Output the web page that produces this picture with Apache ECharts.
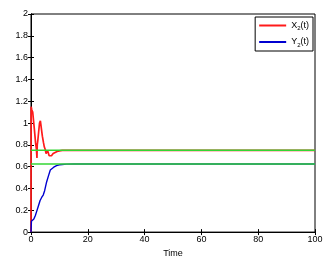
<!DOCTYPE html>
<html><head><meta charset="utf-8">
<script src="https://cdn.jsdelivr.net/npm/echarts@6/dist/echarts.min.js"></script>
<style>html,body{margin:0;padding:0;background:#fff}#c{width:333px;height:263px}</style>
</head><body><div id="c"></div>
<script>
var xTicks = [0, 20, 40, 60, 80, 100];
var yTicks = [0, 0.2, 0.4, 0.6, 0.8, 1, 1.2, 1.4, 1.6, 1.8, 2];
var redT = [0, 0.05, 0.3, 0.6, 0.9, 1.2, 1.4, 1.6, 1.9, 2.1, 2.2, 2.4, 2.7, 3.0, 3.3, 3.5, 3.7, 4.0, 4.4, 4.7, 5.0, 5.3, 5.5, 5.8, 6.1, 6.4, 6.7, 7.2, 7.8, 8.5, 9.2, 10, 11, 12, 15, 20, 40, 60, 80, 100];
var redV = [0, 1.15, 1.12, 1.1, 1.02, 0.94, 0.88, 0.82, 0.76, 0.68, 0.8, 0.84, 0.92, 1.0, 1.02, 0.98, 0.94, 0.88, 0.82, 0.78, 0.76, 0.72, 0.71, 0.75, 0.74, 0.7, 0.71, 0.7, 0.72, 0.72, 0.74, 0.745, 0.75, 0.75, 0.75, 0.75, 0.75, 0.75, 0.75, 0.75];
var blueT = [0, 0.15, 0.4, 1.0, 1.5, 2.0, 2.6, 3.2, 3.8, 4.3, 4.8, 5.5, 6.2, 6.8, 7.3, 8.0, 9.0, 10, 11, 12.5, 15, 20, 40, 60, 80, 100];
var blueV = [0, 0.1, 0.1, 0.12, 0.15, 0.19, 0.24, 0.29, 0.32, 0.34, 0.38, 0.46, 0.52, 0.57, 0.585, 0.595, 0.61, 0.617, 0.62, 0.623, 0.625, 0.625, 0.625, 0.625, 0.625, 0.625];
var greenLevels = [0.75, 0.625];
var names = ['X{s|2}(t)', 'Y{s|2}(t)'];

function pairs(t, v){ return t.map(function(x,i){return [x, v[i]];}); }

var chart = echarts.init(document.getElementById('c'));
var fam = 'Liberation Sans, Arial, sans-serif';
var axisLabel = {fontSize: 9, color: '#000', fontFamily: fam};
var series = [
  {name: 'X2', type: 'line', data: pairs(redT, redV), showSymbol: false, lineStyle: {color: '#ff1a1a', width: 1.7}, itemStyle: {color: '#ff1a1a'}, xAxisIndex: 0, yAxisIndex: 0, z: 2},
  {name: 'Y2', type: 'line', data: pairs(blueT, blueV), showSymbol: false, lineStyle: {color: '#0000d0', width: 1.4}, itemStyle: {color: '#0000d0'}, xAxisIndex: 0, yAxisIndex: 0, z: 2}
];
greenLevels.forEach(function(g, i){
  series.push({name: 'g' + i, type: 'line', data: [[0, g], [100, g]], showSymbol: false, lineStyle: {color: '#33d633', width: 1.4}, xAxisIndex: 0, yAxisIndex: 0, z: 3});
});
chart.setOption({
  animation: false,
  backgroundColor: '#fff',
  grid: {left: 31, right: 18, top: 14, bottom: 25, show: true, borderColor: '#000', borderWidth: 1},
  legend: {
    data: ['X2', 'Y2'], orient: 'vertical', right: 20, top: 17,
    backgroundColor: '#fff', borderColor: '#000', borderWidth: 1, padding: [4, 4, 3, 4],
    itemWidth: 27, itemHeight: 2, itemGap: 6, icon: 'rect',
    formatter: function(n){ return n === 'X2' ? names[0] : names[1]; },
    textStyle: {fontSize: 9, color: '#000', fontFamily: fam, rich: {s: {fontSize: 6, verticalAlign: 'bottom', padding: [6, 0, 0, 0]}}}
  },
  xAxis: [
    {type: 'value', min: 0, max: 100, interval: 20, name: 'Time', nameLocation: 'middle', nameGap: 12,
     nameTextStyle: {fontSize: 9, color: '#000', fontFamily: fam},
     axisLine: {show: true, lineStyle: {color: '#000'}}, axisTick: {show: true, inside: true, length: 3, lineStyle: {color: '#000'}},
     axisLabel: Object.assign({margin: 3}, axisLabel), splitLine: {show: false}},
    {type: 'value', position: 'top', min: 0, max: 100, interval: 20,
     axisLine: {show: true, lineStyle: {color: '#000'}}, axisTick: {show: true, inside: true, length: 3, lineStyle: {color: '#000'}},
     axisLabel: {show: false}, splitLine: {show: false}}
  ],
  yAxis: [
    {type: 'value', min: 0, max: 2, interval: 0.2,
     axisLine: {show: true, lineStyle: {color: '#000'}}, axisTick: {show: true, inside: true, length: 3, lineStyle: {color: '#000'}},
     axisLabel: Object.assign({margin: 3, formatter: function(v){ return String(Math.round(v*10)/10); }}, axisLabel), splitLine: {show: false}},
    {type: 'value', position: 'right', min: 0, max: 2, interval: 0.2,
     axisLine: {show: true, lineStyle: {color: '#000'}}, axisTick: {show: true, inside: true, length: 3, lineStyle: {color: '#000'}},
     axisLabel: {show: false}, splitLine: {show: false}}
  ],
  series: series
});
</script></body></html>
